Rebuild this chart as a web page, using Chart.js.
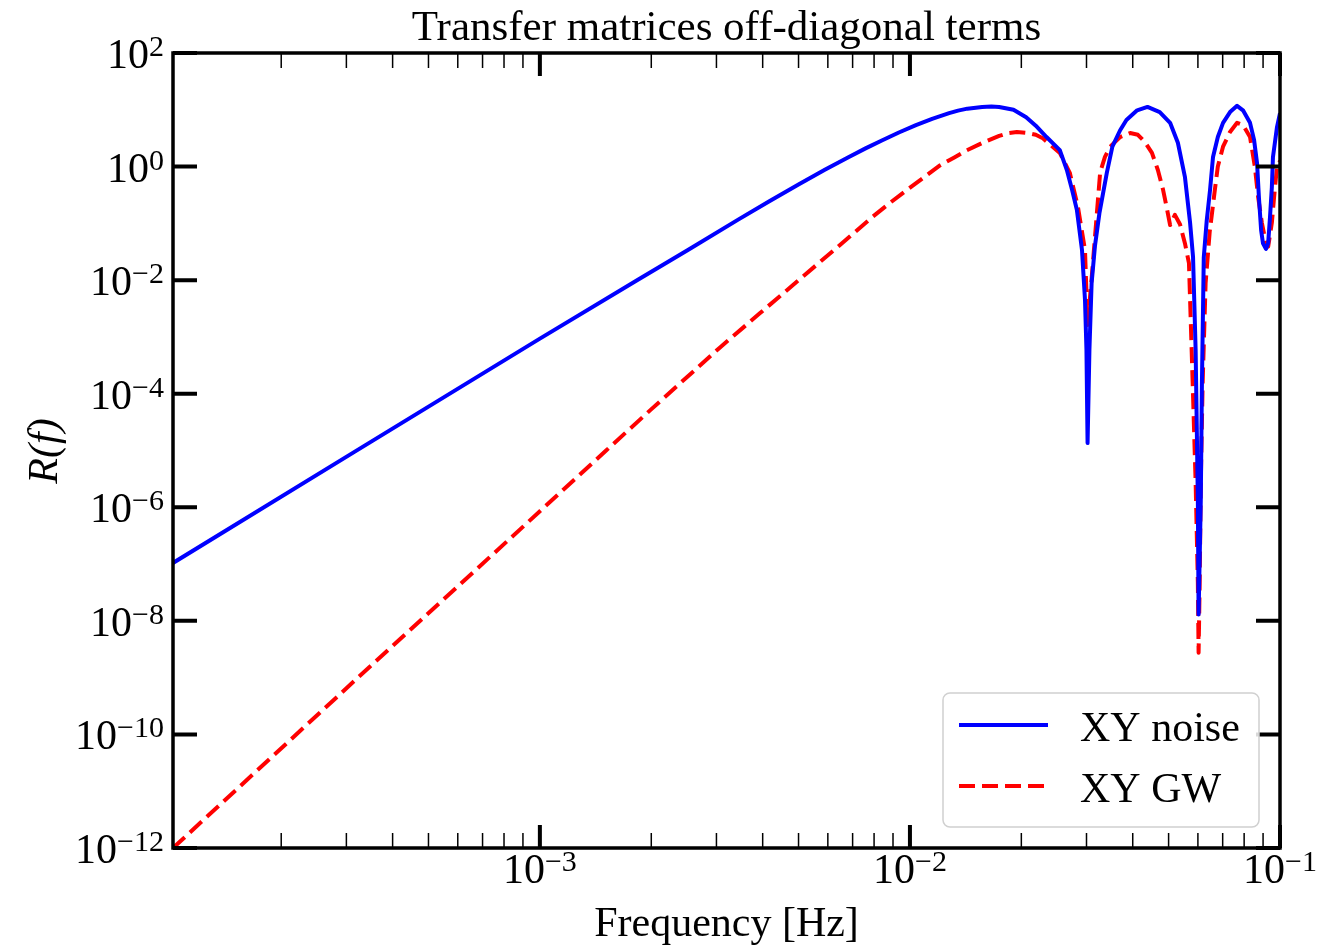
<!DOCTYPE html>
<html>
<head>
<meta charset="utf-8">
<title>Transfer matrices off-diagonal terms</title>
<script src="https://cdn.jsdelivr.net/npm/chart.js@4.4.1/dist/chart.umd.min.js"></script>
<style>
  html, body { margin: 0; padding: 0; background: #fff; }
  #wrap { width: 1325px; height: 947px; }
</style>
</head>
<body>
<div id="wrap"><canvas id="myChart" width="1325" height="947"></canvas></div>
<script>
// XY noise transfer term, frequency [Hz] and R(f)
var freqNoise = [1.02e-4, 3.162e-4, 1.0e-3, 1.845e-3, 2.512e-3, 3.443e-3, 4.169e-3, 5.012e-3, 5.888e-3,
  6.839e-3, 7.586e-3, 8.395e-3, 9.333e-3, 1.038e-2, 1.148e-2, 1.276e-2, 1.349e-2, 1.429e-2, 1.567e-2,
  1.660e-2, 1.742e-2, 1.905e-2, 2.061e-2, 2.188e-2, 2.339e-2,
  2.541e-2, 2.655e-2, 2.742e-2, 2.825e-2, 2.917e-2, 2.972e-2, 2.999e-2, 3.020e-2, 3.055e-2, 3.097e-2,
  3.162e-2, 3.251e-2, 3.404e-2, 3.524e-2, 3.698e-2, 3.846e-2, 4.111e-2, 4.385e-2, 4.732e-2, 5.047e-2,
  5.297e-2, 5.534e-2, 5.715e-2, 5.821e-2, 5.916e-2, 5.998e-2, 6.026e-2, 6.109e-2, 6.152e-2, 6.223e-2,
  6.339e-2, 6.471e-2, 6.592e-2, 6.792e-2, 7.015e-2, 7.328e-2, 7.656e-2, 7.943e-2, 8.299e-2, 8.511e-2,
  8.670e-2, 8.770e-2, 8.892e-2, 8.995e-2, 9.162e-2, 9.290e-2, 9.397e-2, 9.506e-2, 9.572e-2, 9.817e-2, 0.1];
var rNoise = [1.047e-7, 9.55e-6, 9.33e-4, 1.023e-2, 0.0339, 0.1175, 0.2455, 0.4898, 0.881,
  1.479, 2.089, 2.884, 3.981, 5.370, 6.918, 8.710, 9.66, 10.47, 11.22,
  11.48, 11.22, 10.0, 7.413, 5.248, 3.311,
  1.950, 0.871, 0.389, 0.1738, 0.0339, 4.47e-3, 5.89e-4, 1.35e-5, 5.89e-4, 8.91e-3,
  0.0398, 0.1514, 0.776, 2.239, 4.365, 6.607, 9.772, 11.22, 9.120, 5.888,
  2.630, 0.661, 0.1023, 0.0257, 5.89e-4, 1.35e-6, 1.29e-8, 1.35e-6, 1.55e-4, 0.0251,
  0.1122, 0.389, 1.479, 3.311, 5.888, 9.120, 11.75, 9.772, 5.888, 2.951,
  1.148, 0.2884, 0.0759, 0.0447, 0.0355, 0.0447, 0.1288, 0.4365, 1.479, 5.012, 8.710];

// XY GW transfer term
var freqGW = [1.02e-4, 3.162e-4, 1.0e-3, 1.51e-3, 1.995e-3, 3.062e-3, 3.936e-3, 5.047e-3, 6.471e-3,
  7.943e-3, 8.913e-3, 9.817e-3, 1.096e-2, 1.205e-2, 1.318e-2, 1.419e-2, 1.585e-2, 1.742e-2, 1.841e-2,
  1.945e-2, 2.089e-2, 2.188e-2,
  2.286e-2, 2.541e-2, 2.704e-2, 2.844e-2, 2.972e-2, 3.020e-2, 3.090e-2, 3.184e-2, 3.266e-2, 3.365e-2,
  3.475e-2, 3.698e-2, 3.936e-2, 4.130e-2, 4.315e-2, 4.508e-2, 4.677e-2, 4.831e-2, 4.955e-2, 5.047e-2,
  5.200e-2, 5.370e-2, 5.534e-2, 5.675e-2, 5.808e-2, 5.916e-2, 5.998e-2, 6.026e-2, 6.067e-2, 6.109e-2,
  6.180e-2, 6.295e-2, 6.457e-2, 6.668e-2, 6.792e-2, 7.015e-2, 7.328e-2, 7.656e-2, 7.943e-2, 8.299e-2,
  8.551e-2, 8.730e-2, 8.933e-2, 9.162e-2, 9.290e-2, 9.506e-2, 9.638e-2, 9.817e-2, 0.1];
var rGW = [1e-12, 8.91e-10, 8.51e-7, 1.0e-5, 5.25e-5, 6.46e-4, 2.63e-3, 0.01047, 0.0417,
  0.1318, 0.2399, 0.389, 0.661, 1.047, 1.445, 1.905, 2.692, 3.467, 3.890,
  4.074, 3.890, 3.631,
  3.162, 1.738, 0.776, 0.195, 0.0339, 1.62e-3, 8.91e-3, 0.1, 0.794, 1.479,
  2.239, 3.311, 3.890, 3.631, 2.692, 1.738, 0.871, 0.389, 0.1738, 0.0933,
  0.1413, 0.0955, 0.0447, 0.01995, 1.55e-4, 2.69e-6, 4.68e-8, 2.75e-9, 4.68e-8, 2.69e-6,
  1.55e-4, 8.91e-3, 0.0708, 0.389, 1.0, 2.239, 4.074, 5.888, 5.370, 3.311,
  1.0, 0.2884, 0.1023, 0.0447, 0.0389, 0.1023, 0.2884, 1.0, 1.259];

// tick label exponents (10^n)
var xTickExps = [-3, -2, -1];
var yTickExps = [2, 0, -2, -4, -6, -8, -10, -12];

var seriesLabels = ["XY noise", "XY GW"];

var serif = "'Liberation Serif', 'DejaVu Serif', serif";

function toPoints(xs, ys) {
  var pts = [];
  for (var i = 0; i < xs.length; i++) {
    pts.push({ x: xs[i], y: ys[i] });
  }
  return pts;
}

function sup(n) {
  return n < 0 ? "\u2212" + Math.abs(n) : String(n);
}

// draws "10" with a raised exponent; align is 'right' or 'center'
function drawPower(ctx, exp, x, baseline, align) {
  var e = sup(exp);
  ctx.font = "42px " + serif;
  var wBase = ctx.measureText("10").width;
  ctx.font = "30px " + serif;
  var wExp = ctx.measureText(e).width;
  var total = wBase + wExp;
  var left = align === "right" ? x - total : x - total / 2;
  ctx.textAlign = "left";
  ctx.textBaseline = "alphabetic";
  ctx.font = "42px " + serif;
  ctx.fillText("10", left, baseline);
  ctx.font = "30px " + serif;
  ctx.fillText(e, left + wBase, baseline - 12);
}

var axesDecor = {
  id: "axesDecor",
  afterDatasetsDraw: function (chart) {
    var ctx = chart.ctx;
    var a = chart.chartArea;
    var xs = chart.scales.x;
    var ys = chart.scales.y;
    ctx.save();
    ctx.fillStyle = "#000";
    ctx.strokeStyle = "#000";

    // minor x ticks, top and bottom
    ctx.lineWidth = 1.5;
    for (var d = -4; d <= -2; d++) {
      for (var k = 2; k <= 9; k++) {
        var v = k * Math.pow(10, d);
        if (v < xs.min || v > xs.max) continue;
        var px = xs.getPixelForValue(v);
        ctx.beginPath();
        ctx.moveTo(px, a.bottom); ctx.lineTo(px, a.bottom - 15);
        ctx.moveTo(px, a.top); ctx.lineTo(px, a.top + 15);
        ctx.stroke();
      }
    }

    // major ticks
    ctx.lineWidth = 4;
    xTickExps.forEach(function (n) {
      var px = xs.getPixelForValue(Math.pow(10, n));
      ctx.beginPath();
      ctx.moveTo(px, a.bottom); ctx.lineTo(px, a.bottom - 23);
      ctx.moveTo(px, a.top); ctx.lineTo(px, a.top + 23);
      ctx.stroke();
    });
    yTickExps.forEach(function (n) {
      var py = ys.getPixelForValue(Math.pow(10, n));
      ctx.beginPath();
      ctx.moveTo(a.left, py); ctx.lineTo(a.left + 24, py);
      ctx.moveTo(a.right, py); ctx.lineTo(a.right - 24, py);
      ctx.stroke();
    });

    // frame
    ctx.lineWidth = 3.5;
    ctx.strokeRect(a.left, a.top, a.right - a.left, a.bottom - a.top);

    // tick labels
    xTickExps.forEach(function (n) {
      var px = xs.getPixelForValue(Math.pow(10, n));
      drawPower(ctx, n, px, a.bottom + 35, "center");
    });
    yTickExps.forEach(function (n) {
      var py = ys.getPixelForValue(Math.pow(10, n));
      drawPower(ctx, n, a.left - 9, py + 15, "right");
    });

    // title and axis labels
    ctx.textAlign = "center";
    ctx.textBaseline = "alphabetic";
    ctx.font = "43px " + serif;
    ctx.fillText("Transfer matrices off-diagonal terms", (a.left + a.right) / 2, 40);
    ctx.font = "42px " + serif;
    ctx.fillText("Frequency [Hz]", (a.left + a.right) / 2, 936);
    ctx.save();
    ctx.translate(57, 451);
    ctx.rotate(-Math.PI / 2);
    ctx.font = "italic 42px " + serif;
    ctx.fillText("R(f)", 0, 0);
    ctx.restore();

    // legend, lower right
    var bx = 943, by = 693, bw = 316, bh = 134, r = 7;
    ctx.beginPath();
    ctx.moveTo(bx + r, by);
    ctx.arcTo(bx + bw, by, bx + bw, by + bh, r);
    ctx.arcTo(bx + bw, by + bh, bx, by + bh, r);
    ctx.arcTo(bx, by + bh, bx, by, r);
    ctx.arcTo(bx, by, bx + bw, by, r);
    ctx.closePath();
    ctx.fillStyle = "rgba(255,255,255,0.85)";
    ctx.fill();
    ctx.lineWidth = 1.5;
    ctx.strokeStyle = "#d0d0d0";
    ctx.stroke();

    chart.data.datasets.forEach(function (ds, i) {
      var ly = 725 + i * 61;
      ctx.beginPath();
      ctx.strokeStyle = ds.borderColor;
      ctx.lineWidth = ds.borderWidth;
      ctx.setLineDash(ds.borderDash || []);
      ctx.moveTo(959, ly);
      ctx.lineTo(1048, ly);
      ctx.stroke();
      ctx.setLineDash([]);
      ctx.fillStyle = "#000";
      ctx.font = "42px " + serif;
      ctx.textAlign = "left";
      ctx.fillText(ds.label, 1080, ly + 16);
    });

    ctx.restore();
  }
};

var ctx = document.getElementById("myChart").getContext("2d");

var mychart = new Chart(ctx, {
  type: "line",
  data: {
    datasets: [{
      label: seriesLabels[0],
      data: toPoints(freqNoise, rNoise),
      borderColor: "#0000ff",
      borderWidth: 4,
      borderJoinStyle: "round",
      pointRadius: 0,
      tension: 0,
      fill: false
    }, {
      label: seriesLabels[1],
      data: toPoints(freqGW, rGW),
      borderColor: "#ff0000",
      borderWidth: 4,
      borderDash: [16, 7],
      borderJoinStyle: "round",
      pointRadius: 0,
      tension: 0,
      fill: false
    }]
  },
  options: {
    responsive: false,
    animation: false,
    events: [],
    layout: { padding: { top: 53, right: 45, left: 0, bottom: 0 } },
    plugins: {
      legend: { display: false },
      title: { display: false },
      tooltip: { enabled: false }
    },
    scales: {
      x: {
        type: "logarithmic",
        min: 1.02e-4,
        max: 0.1,
        grid: { display: false },
        border: { display: false },
        ticks: { display: false },
        afterFit: function (s) { s.height = 99; }
      },
      y: {
        type: "logarithmic",
        min: 1e-12,
        max: 100,
        grid: { display: false },
        border: { display: false },
        ticks: { display: false },
        afterFit: function (s) { s.width = 173; }
      }
    }
  },
  plugins: [axesDecor]
});
</script>
</body>
</html>
